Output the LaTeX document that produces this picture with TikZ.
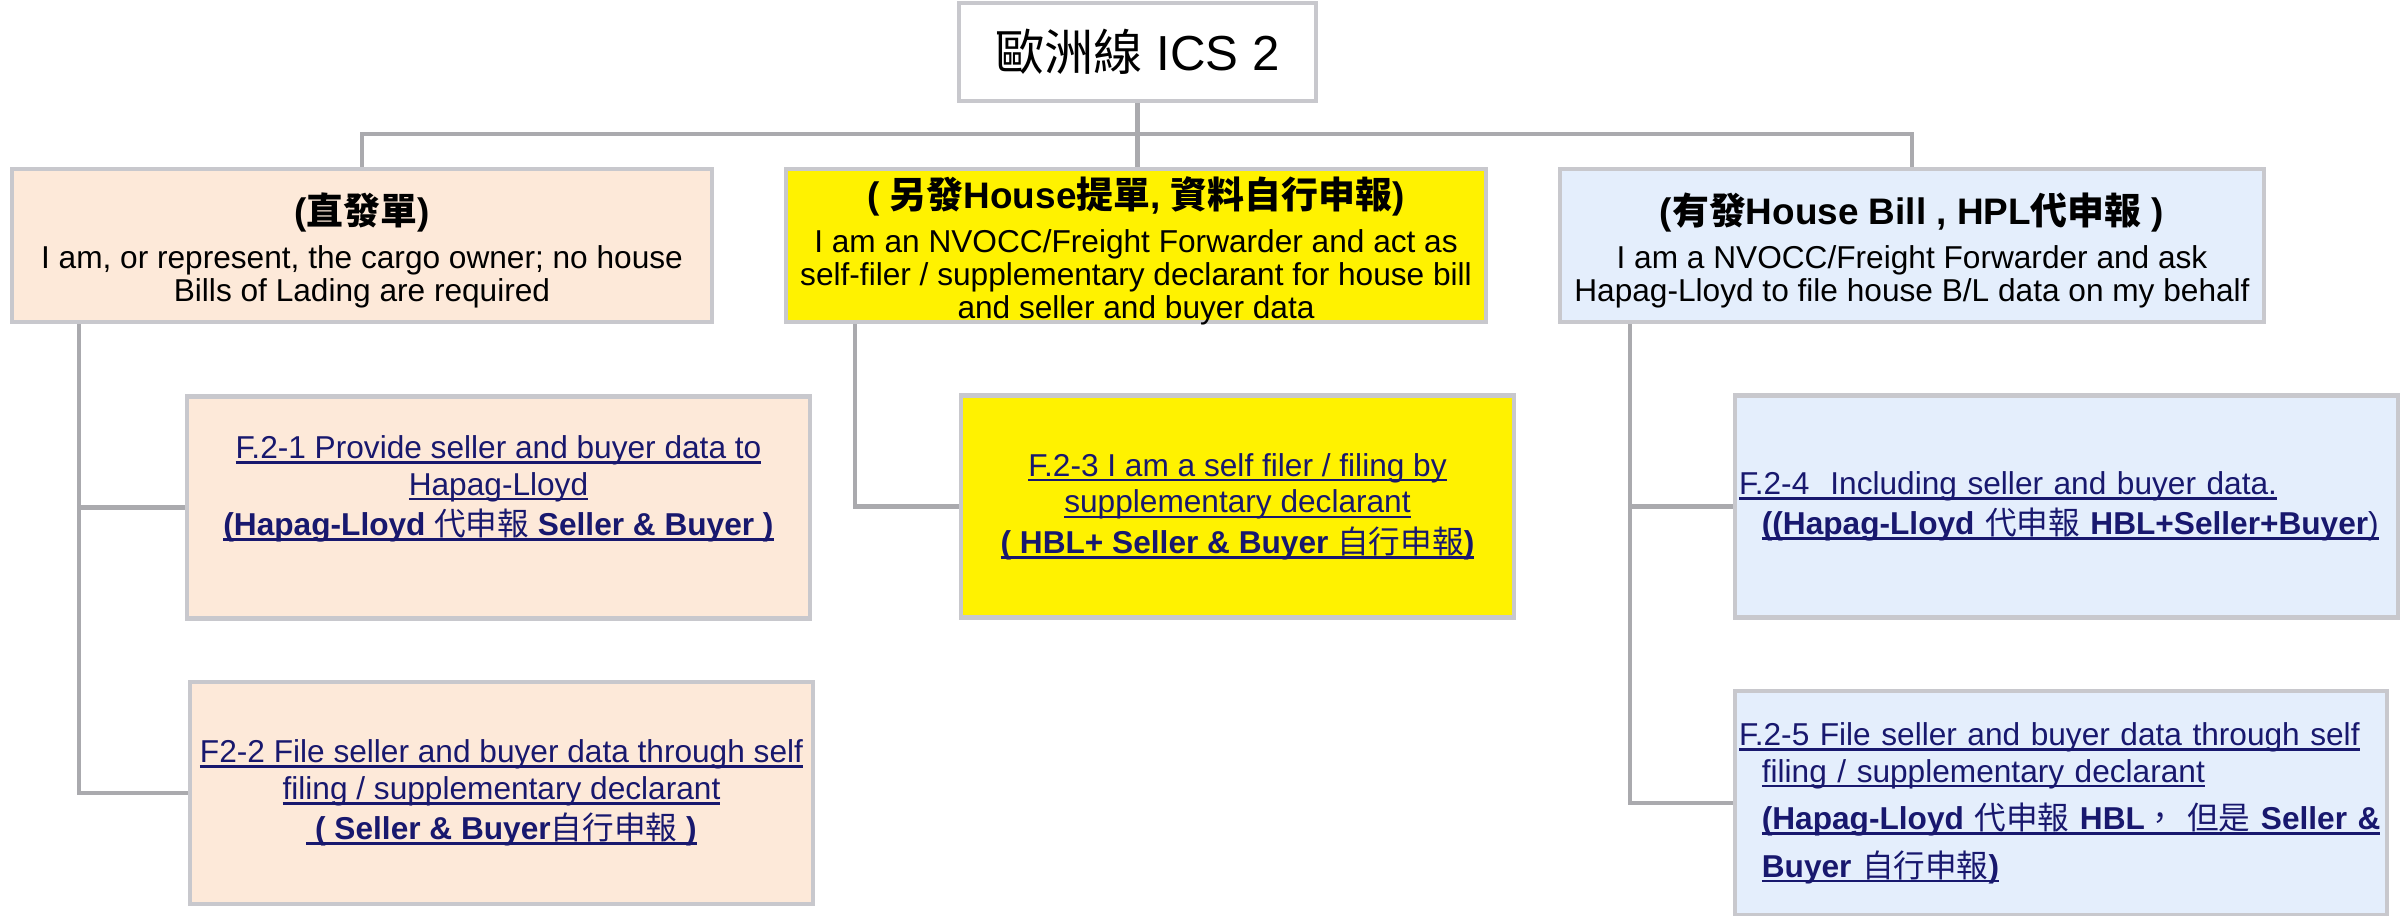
\documentclass[tikz,border=0pt]{standalone}
\usepackage{fontspec}
\setmainfont{Liberation Sans}
\newfontfamily\cjk{Noto Sans CJK TC}
\usetikzlibrary{calc,positioning}
\definecolor{boxgray}{RGB}{200,200,205}
\definecolor{linegray}{RGB}{170,170,174}
\definecolor{peach}{RGB}{253,233,217}
\definecolor{paleblue}{RGB}{228,238,252}
\definecolor{navy}{RGB}{24,24,110}
\newcommand\zh[1]{{\cjk #1}}
\newcommand\zhr[1]{{\cjk\mdseries #1}}
\newsavebox\lnkbox
\newcommand\lnk[1]{\sbox\lnkbox{#1}\rlap{\rule[-1.5pt]{\wd\lnkbox}{0.75pt}}\usebox\lnkbox}
\newcommand\head[1]{{\fontsize{10.5}{12}\selectfont\bfseries\rule{0pt}{12pt}#1}}
\tikzstyle{rootbox}=[draw=boxgray, line width=1.2pt, fill=white, minimum width=3.57cm, minimum height=0.98cm, font=\fontsize{14}{16}\selectfont]
\tikzstyle{casebox}=[draw=boxgray, line width=1.2pt, minimum width=7cm, minimum height=1.53cm, align=center, font=\fontsize{9}{9.4}\selectfont]
\tikzstyle{leafbox}=[draw=boxgray, line width=1.2pt, minimum height=2.22cm, align=center, text=navy, font=\fontsize{9}{10.5}\selectfont]
\tikzstyle{conn}=[draw=linegray, line width=1.2pt]

\begin{document}
\begin{tikzpicture}[inner sep=0.4mm]
\useasboundingbox (0,0) rectangle (24.07,-9.16);

\node (ics) [rootbox] at (11.375,-0.52) {\zh{歐洲線} ICS 2};

\node (direct) [casebox,fill=peach] at (3.62,-2.455) {\head{(\zh{直發單})}\\[3pt]
  I am, or represent, the cargo owner; no house\\Bills of Lading are required};
\node (selffile) [casebox,fill=yellow,inner ysep=-2.5pt] at (11.36,-2.455) {\head{( \zh{另發}House\zh{提單}, \zh{資料自行申報})}\\[3pt]
  I am an NVOCC/Freight Forwarder and act as\\self-filer / supplementary declarant for house bill\\and seller and buyer data};
\node (hplfile) [casebox,fill=paleblue,minimum width=7.04cm] at (19.12,-2.455) {\head{(\zh{有發}House Bill , HPL\zh{代申報} )}\\[3pt]
  I am a NVOCC/Freight Forwarder and ask\\Hapag-Lloyd to file house B/L data on my behalf};

\node (f21) [leafbox,fill=peach,minimum width=6.23cm] at (4.985,-5.075) {\lnk{F.2-1 Provide seller and buyer data to}\\
  \lnk{Hapag-Lloyd}\\[1pt]
  \lnk{\textbf{(Hapag-Lloyd \zhr{代申報} Seller \& Buyer )}}\\[2pt]};
\node (f22) [leafbox,fill=peach,minimum width=6.23cm] at (5.015,-7.93) {\lnk{F2-2 File seller and buyer data through self}\\
  \lnk{filing / supplementary declarant}\\[1pt]
  \lnk{\ \textbf{( Seller \& Buyer}\zhr{自行申報}\textbf{ )}}};
\node (f23) [leafbox,fill=yellow,minimum width=5.53cm] at (12.375,-5.065) {\lnk{F.2-3 I am a self filer / filing by}\\
  \lnk{supplementary declarant}\\[1pt]
  \lnk{\textbf{( HBL+ Seller \& Buyer \zhr{自行申報})}}};
\node (f24) [leafbox,fill=paleblue,text width=6.55cm,align=left] at (20.665,-5.065) {\lnk{F.2-4\ \ Including seller and buyer data.}\\[1pt]
  \hspace*{6.5pt}\lnk{\textbf{((Hapag-Lloyd \zhr{代申報} HBL+Seller+Buyer})}};
\node (f25) [leafbox,fill=paleblue,text width=6.44cm,align=left,minimum height=2.24cm] at (20.61,-8.03) {\lnk{F.2-5 File seller and buyer data through self}\\
  \hspace*{6.5pt}\lnk{filing / supplementary declarant}\\[3pt]
  \hspace*{6.5pt}\lnk{\textbf{(Hapag-Lloyd \zhr{代申報} HBL\zhr{，} \zhr{但是} Seller \&}}\\[3pt]
  \hspace*{6.5pt}\lnk{\textbf{Buyer \zhr{自行申報})}}};

\coordinate (hub) at ($(ics.south)+(0,-0.31)$);
\draw[conn] (ics.south) -- (ics.south |- selffile.north);
\draw[conn] (direct.north) |- (hub) -| (hplfile.north);

\draw[conn] ([xshift=0.69cm]direct.south west) |- (f21.west);
\draw[conn] ([xshift=0.69cm]direct.south west) |- (f22.west);
\draw[conn] ([xshift=0.71cm]selffile.south west) |- (f23.west);
\draw[conn] ([xshift=0.72cm]hplfile.south west) |- (f24.west);
\draw[conn] ([xshift=0.72cm]hplfile.south west) |- (f25.west);

\end{tikzpicture}
\end{document}
